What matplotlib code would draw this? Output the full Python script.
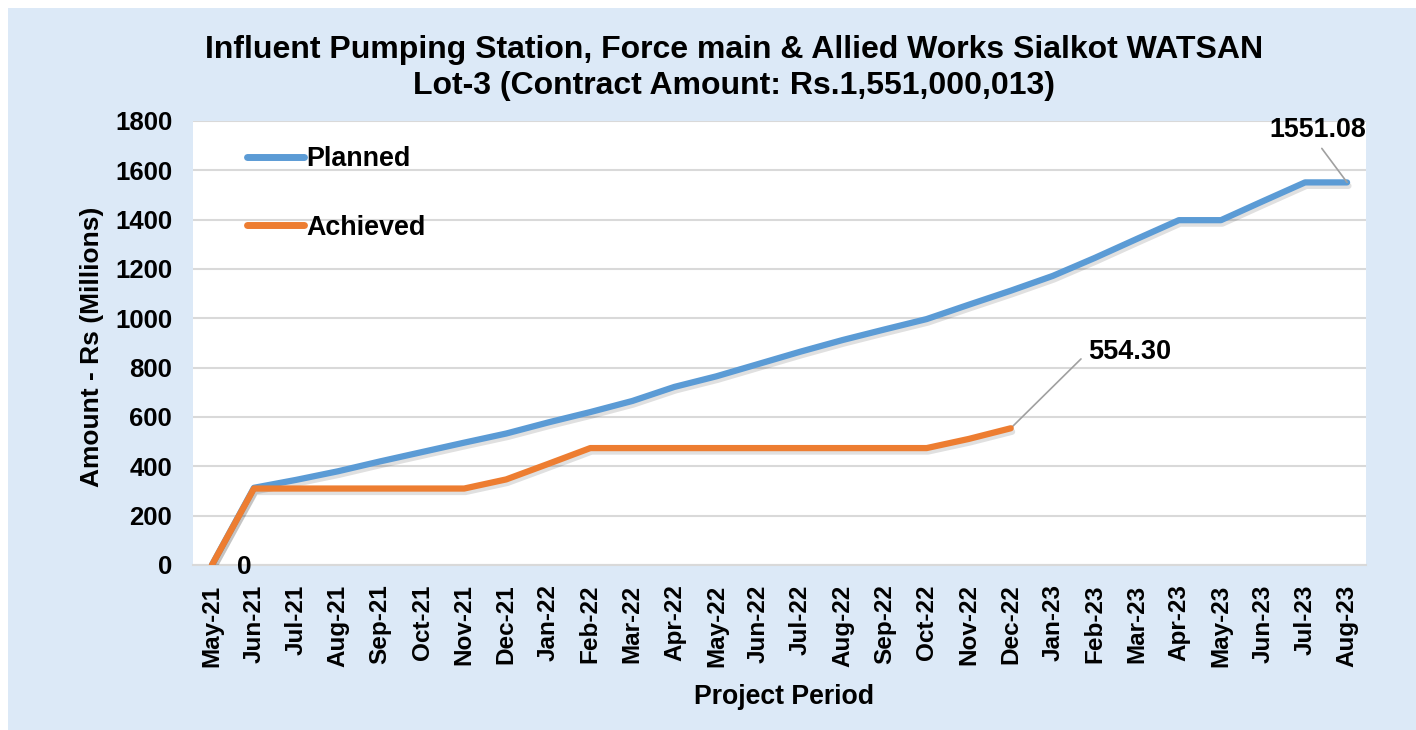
import matplotlib
matplotlib.use("Agg")
import matplotlib.pyplot as plt
import matplotlib.patheffects as pe
from matplotlib.patches import Rectangle

plt.rcParams['font.family'] = ['Liberation Sans', 'DejaVu Sans']
plt.rcParams['font.weight'] = 'bold'

months = ["May-21", "Jun-21", "Jul-21", "Aug-21", "Sep-21", "Oct-21", "Nov-21",
          "Dec-21", "Jan-22", "Feb-22", "Mar-22", "Apr-22", "May-22", "Jun-22",
          "Jul-22", "Aug-22", "Sep-22", "Oct-22", "Nov-22", "Dec-22", "Jan-23",
          "Feb-23", "Mar-23", "Apr-23", "May-23", "Jun-23", "Jul-23", "Aug-23"]

planned = [0, 313, 345, 380, 420, 458, 496, 533, 578, 620, 665, 722, 765, 815,
           865, 912, 955, 997, 1055, 1112, 1172, 1245, 1322, 1398, 1398, 1475,
           1551.08, 1551.08]

achieved = [0, 310, 310, 310, 310, 310, 310, 347, 410, 474, 474, 474, 474, 474,
            474, 474, 474, 474, 511, 554.30]

blue = "#5B9BD5"
orange = "#ED7D31"

fig = plt.figure(figsize=(14.16, 7.30), dpi=100)
fig.patch.set_facecolor("white")
fig.patches.append(Rectangle((8 / 1416, 0), 1 - 8 / 1416, 1 - 8 / 730,
                             transform=fig.transFigure, facecolor="#DCE9F7",
                             edgecolor="none", zorder=-10))

ax = fig.add_axes([193 / 1416, 1 - 565 / 730, 1173 / 1416, 444 / 730])
ax.set_facecolor("white")

# soft drop shadow under the lines
shadow = [pe.SimpleLineShadow(offset=(1, -2.5), shadow_color="black", alpha=0.12),
          pe.Normal()]

x_p = list(range(len(planned)))
x_a = list(range(len(achieved)))
ax.plot(x_p, planned, color=blue, lw=4.5, solid_capstyle="round",
        solid_joinstyle="round", label="Planned", path_effects=shadow, zorder=3)
ax.plot(x_a, achieved, color=orange, lw=4.5, solid_capstyle="round",
        solid_joinstyle="round", label="Achieved", path_effects=shadow, zorder=4)

ax.set_xlim(-0.45, len(months) - 0.55)
ax.set_ylim(0, 1800)
ax.set_yticks(range(0, 1801, 200))
ax.set_xticks(x_p)
ax.set_xticklabels(months, rotation=90, fontsize=17.5, fontweight="bold")
ax.tick_params(axis="y", labelsize=18.5, length=0, pad=15)
ax.tick_params(axis="x", length=0, pad=14)
for lbl in ax.get_yticklabels():
    lbl.set_fontweight("bold")

ax.grid(axis="y", color="#D9D9D9", lw=1.5)
ax.set_axisbelow(True)
for s in ["left", "right", "top"]:
    ax.spines[s].set_visible(False)
ax.spines["bottom"].set_color("#D9D9D9")
ax.spines["bottom"].set_linewidth(1.5)

leg = ax.legend(loc="upper left", bbox_to_anchor=(0.037, 0.968), frameon=False,
                fontsize=19.4, handlelength=2.1, handletextpad=0.1, labelspacing=1.58,
                borderaxespad=0)
for t in leg.get_texts():
    t.set_fontweight("bold")
for h in leg.get_lines():
    h.set_linewidth(5)
    h.set_solid_capstyle("round")
    h.set_path_effects([])

# data labels
ax.annotate("0", xy=(0, achieved[0]), xytext=(32, -2), textcoords="offset pixels",
            ha="center", va="center", fontsize=19, fontweight="bold")
ax.annotate(f"{achieved[-1]:.2f}", xy=(len(achieved) - 1, achieved[-1]),
            xytext=(77, 76), textcoords="offset pixels", ha="left", va="center",
            fontsize=19.5, fontweight="bold",
            arrowprops=dict(arrowstyle="-", color="#A0A0A0", lw=1.2,
                            relpos=(0, 0.5), shrinkA=4, shrinkB=0))
ax.annotate(f"{planned[-1]:.2f}", xy=(len(planned) - 1, planned[-1]),
            xytext=(-29, 52), textcoords="offset pixels", ha="center", va="center",
            fontsize=19.3, fontweight="bold",
            arrowprops=dict(arrowstyle="-", color="#A0A0A0", lw=1.2,
                            relpos=(0.5, 0), shrinkA=2, shrinkB=0))

fig.text(734 / 1416, 1 - 50 / 730,
         "Influent Pumping Station, Force main & Allied Works Sialkot WATSAN",
         ha="center", va="center", fontsize=23, fontweight="bold")
fig.text(734 / 1416, 1 - 86 / 730, "Lot-3 (Contract Amount: Rs.1,551,000,013)",
         ha="center", va="center", fontsize=23, fontweight="bold")
fig.text(92 / 1416, 1 - 347 / 730, "Amount - Rs (Millions)", rotation=90,
         ha="center", va="center", fontsize=19, fontweight="bold")
fig.text(784 / 1416, 1 - 697 / 730, "Project Period", ha="center", va="center",
         fontsize=19.2, fontweight="bold")

fig.savefig("out.png", dpi=100)
